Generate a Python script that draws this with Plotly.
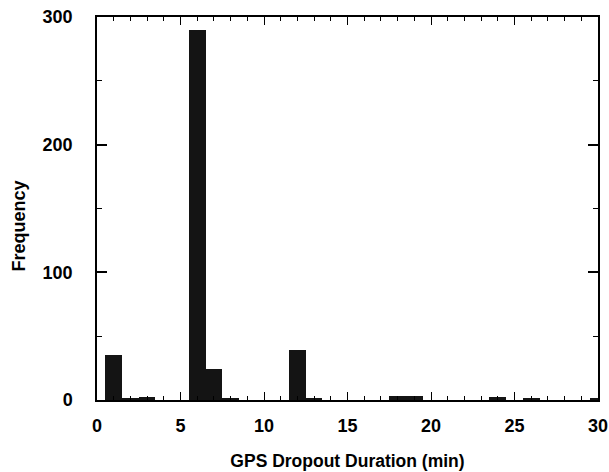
import plotly.graph_objects as go

# Histogram bins (centre of 1-minute bins) and frequencies
bin_centers = list(range(1, 31))
frequencies = [35, 1, 2, 0, 0, 290, 24, 1, 0, 0,
               0, 39, 1, 0, 0, 0, 0, 3, 3, 0,
               0, 0, 0, 2, 0, 1, 0, 0, 0, 1]
x_ticks = [0, 5, 10, 15, 20, 25, 30]
y_ticks = [0, 100, 200, 300]

FONT = "Liberation Sans, Arial, sans-serif"

fig = go.Figure()
fig.add_trace(go.Bar(
    x=bin_centers, y=frequencies, width=1,
    marker=dict(color="#141414", line=dict(width=0)),
    showlegend=False,
))

fig.update_layout(
    width=609, height=472,
    margin=dict(l=97, r=11, t=17, b=72),
    paper_bgcolor="white", plot_bgcolor="white",
    font=dict(family=FONT, color="black"),
    bargap=0,
)
fig.update_xaxes(
    range=[0, 30], tickvals=x_ticks, ticktext=[str(v) for v in x_ticks],
    ticks="inside", ticklen=8, tickwidth=1.2, tickcolor="black",
    minor=dict(ticks="inside", dtick=1, ticklen=4, tickcolor="black", tickwidth=1),
    showline=True, linecolor="black", linewidth=1.5, mirror="ticks",
    showgrid=False, zeroline=False,
    tickfont=dict(size=18, weight="bold", family=FONT),
    ticklabelstandoff=9,
    title=dict(text="GPS Dropout Duration (min)", font=dict(size=17.5, weight="bold", family=FONT), standoff=19),
    automargin=False,
)
fig.update_yaxes(
    range=[0, 300], tickvals=y_ticks, ticktext=[str(v) for v in y_ticks],
    ticks="inside", ticklen=10, tickwidth=1.5, tickcolor="black",
    minor=dict(ticks="inside", dtick=50, ticklen=5, tickcolor="black", tickwidth=1.2),
    showline=True, linecolor="black", linewidth=1.5, mirror="ticks",
    showgrid=False, zeroline=False,
    tickfont=dict(size=18, weight="bold", family=FONT),
    ticklabelstandoff=19,
    automargin=False,
)
fig.add_annotation(
    text="Frequency", textangle=-90, showarrow=False,
    xref="paper", yref="paper", x=-0.156, y=0.455,
    xanchor="center", yanchor="middle",
    font=dict(size=18, weight="bold", family=FONT),
)

fig.write_html(
    "out.html",
    config={"displayModeBar": False},
    post_script="document.body.style.margin='0';document.body.style.overflow='hidden';",
)
